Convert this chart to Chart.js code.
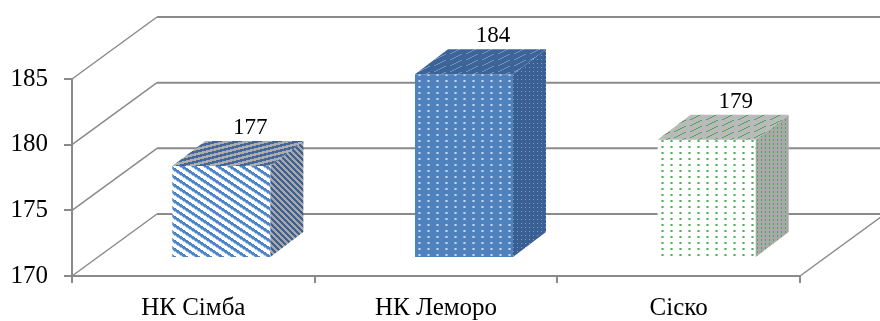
<!DOCTYPE html>
<html>
<head>
<meta charset="utf-8">
<script src="https://cdn.jsdelivr.net/npm/chart.js@4"></script>
<style>
  html, body { margin: 0; padding: 0; background: #fff; }
  canvas { display: block; }
</style>
</head>
<body>
<canvas id="chart" width="880" height="321"></canvas>
<script>
const categories = ["НК Сімба", "НК Леморо", "Сіско"];
const values = [177, 184, 179];
const yMin = 170;
const yMax = 185;
const yStep = 5;

const FONT = "'Liberation Serif', 'Times New Roman', serif";
const GRID = "#8a8a8a";

// 3D offsets: back wall, plane the bars stand in, bar depth
const WALL_DX = 85, WALL_DY = 62;
const BAR_DX = 28, BAR_DY = 18;
const DEPTH_DX = 33, DEPTH_DY = 25;

// small tiles turned into canvas patterns for the bar faces
function tile(w, h, bg, fn) {
  const c = document.createElement("canvas");
  c.width = w; c.height = h;
  const t = c.getContext("2d");
  t.fillStyle = bg;
  t.fillRect(0, 0, w, h);
  for (let y = 0; y < h; y++) {
    for (let x = 0; x < w; x++) {
      const col = fn(x, y);
      if (col) { t.fillStyle = col; t.fillRect(x, y, 1, 1); }
    }
  }
  return t.createPattern(c, "repeat");
}
const ctx = document.getElementById("chart").getContext("2d");

const frontPatterns = [
  tile(12, 8, "#ffffff", (x, y) => {
    const t = ((y - (2 / 3) * x) % 8 + 8) % 8;
    if (t < 3) return "#4d85cb";
    if (t < 4) return "#a4c0e5";
    return null;
  }),
  tile(9, 6, "#4f81bd", (x, y) => {
    if ((y === 2 || y === 3) && x >= 3 && x <= 5) return x === 4 ? "#c3d6ef" : "#93b2dc";
    return null;
  }),
  tile(9, 6, "#ffffff", (x, y) => {
    if ((y === 2 || y === 3) && x >= 3 && x <= 5) return x === 4 ? "#4fb25c" : "#94d29c";
    return null;
  })
];
const sidePatterns = [
  tile(6, 6, "#a8a8a8", (x, y) => {
    const t = ((x - y) % 6 + 6) % 6;
    return t < 3 ? "#3e6195" : null;
  }),
  tile(4, 4, "#3a6093", (x, y) => (x === 1 && y === 1) ? "#7d9cc8" : null),
  tile(4, 4, "#a9a9a9", (x, y) => (x === 1 && (y === 1 || y === 2)) ? "#4ea55b" : null)
];
const topPatterns = [
  tile(20, 5, "#adadad", (x, y) => {
    const t = ((y + 0.25 * x) % 5 + 5) % 5;
    return t < 2.5 ? "#45689c" : null;
  }),
  tile(16, 6, "#3d6498", (x, y) => {
    const t = ((x + 2 * y) % 16 + 16) % 16;
    return t < 2 ? "#6f91c0" : null;
  }),
  tile(16, 6, "#bababa", (x, y) => {
    const t = ((x + 2 * y) % 16 + 16) % 16;
    return t < 2 ? "#4ea55b" : null;
  })
];

const line = (c, x1, y1, x2, y2) => {
  c.beginPath(); c.moveTo(x1, y1); c.lineTo(x2, y2); c.stroke();
};

const box3d = {
  id: "box3d",
  beforeDatasetsDraw(chart) {
    const { ctx, chartArea: { left, right, bottom }, scales: { y } } = chart;
    ctx.save();
    ctx.strokeStyle = GRID;
    y.ticks.forEach(t => {
      const py = y.getPixelForValue(t.value);
      ctx.lineWidth = 1.5;
      line(ctx, left, py, left + WALL_DX, py - WALL_DY);
      ctx.lineWidth = 2;
      line(ctx, left + WALL_DX, py - WALL_DY, chart.width, py - WALL_DY);
    });
    ctx.lineWidth = 1.5;
    line(ctx, right, bottom, right + WALL_DX, bottom - WALL_DY);
    ctx.restore();
    // bars stand a bit behind the front plane
    ctx.save();
    ctx.translate(BAR_DX, -BAR_DY);
  },
  afterDatasetsDraw(chart) {
    const { ctx } = chart;
    const meta = chart.getDatasetMeta(0);
    meta.data.forEach((bar, i) => {
      const { x, y, base, width } = bar.getProps(["x", "y", "base", "width"], true);
      const l = x - width / 2, r = x + width / 2;
      // side face
      ctx.fillStyle = sidePatterns[i];
      ctx.beginPath();
      ctx.moveTo(r, y);
      ctx.lineTo(r + DEPTH_DX, y - DEPTH_DY);
      ctx.lineTo(r + DEPTH_DX, base - DEPTH_DY);
      ctx.lineTo(r, base);
      ctx.closePath();
      ctx.fill();
      // top face
      ctx.fillStyle = topPatterns[i];
      ctx.beginPath();
      ctx.moveTo(l, y);
      ctx.lineTo(l + DEPTH_DX, y - DEPTH_DY);
      ctx.lineTo(r + DEPTH_DX, y - DEPTH_DY);
      ctx.lineTo(r, y);
      ctx.closePath();
      ctx.fill();
      // value label
      ctx.fillStyle = "#000";
      ctx.font = "23px " + FONT;
      ctx.textAlign = "center";
      ctx.textBaseline = "middle";
      ctx.fillText(String(values[i]), x + 29, y - DEPTH_DY - 13);
    });
    ctx.restore();
  }
};

new Chart(ctx, {
  type: "bar",
  data: {
    labels: categories,
    datasets: [{
      data: values,
      base: yMin,
      backgroundColor: frontPatterns,
      borderWidth: 0,
      categoryPercentage: 0.404,
      barPercentage: 1,
      clip: false
    }]
  },
  options: {
    responsive: false,
    animation: false,
    devicePixelRatio: 1,
    layout: { padding: { top: 79, right: 80, left: 0, bottom: 0 } },
    plugins: {
      legend: { display: false },
      tooltip: { enabled: false }
    },
    scales: {
      x: {
        offset: true,
        grid: { display: true, drawOnChartArea: false, tickLength: 7, color: GRID, lineWidth: 2 },
        border: { color: GRID, width: 2 },
        ticks: { color: "#000", font: { family: FONT, size: 25 }, padding: 10 },
        afterFit(s) { s.height = 45; }
      },
      y: {
        min: yMin,
        max: yMax,
        grid: { display: true, drawOnChartArea: false, tickLength: 8, color: GRID, lineWidth: 2 },
        border: { color: GRID, width: 2 },
        ticks: { stepSize: yStep, color: "#000", font: { family: FONT, size: 25 }, padding: 16 },
        afterFit(s) { s.width = 72; }
      }
    }
  },
  plugins: [box3d]
});
</script>
</body>
</html>
